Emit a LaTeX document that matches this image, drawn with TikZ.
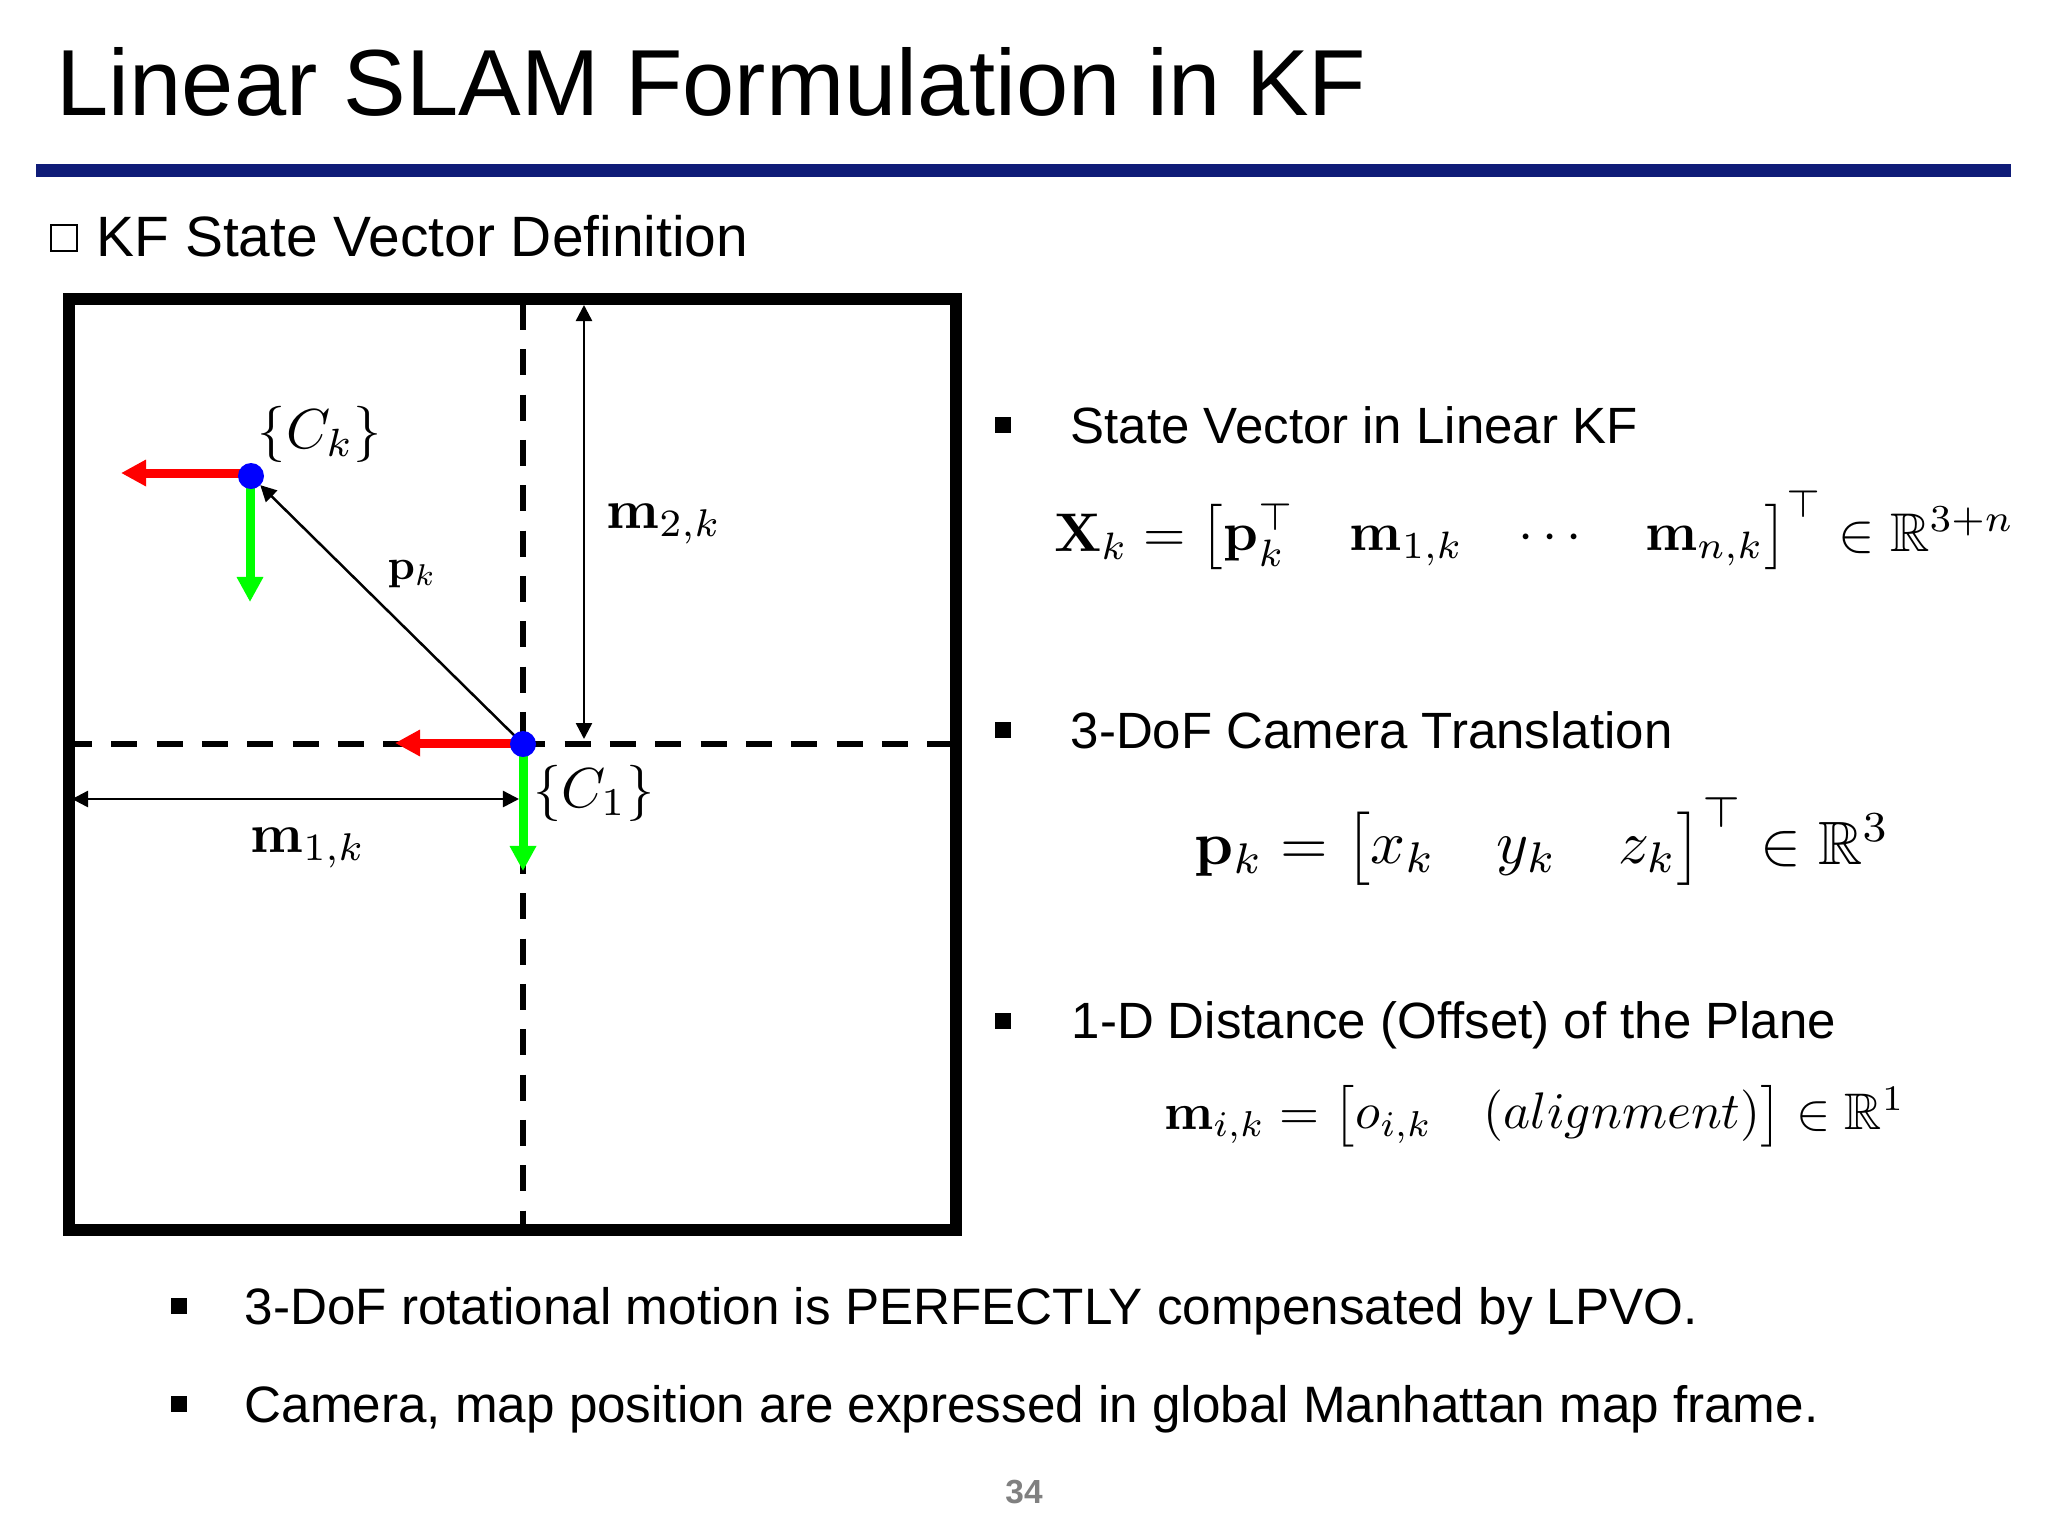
\documentclass[tikz,border=0pt]{standalone}
\usepackage{amsmath,amssymb}
\usepackage[no-math]{fontspec}
\setmainfont{Liberation Sans}
\usetikzlibrary{arrows.meta}
\definecolor{barblue}{HTML}{0F1C78}
\tikzset{
	txt/.style={anchor=base west,inner sep=0pt,font=\fontsize{14.5}{17}\selectfont},
	txtwide/.style={txt,font=\fontsize{14.56}{17}\selectfont},
	eqn/.style={anchor=base west,inner sep=0pt},
	lab/.style={inner sep=0pt,scale=1.57},
	sq/.style={fill=black,inner sep=0pt,minimum size=0.16cm},
	axisline/.style={line width=0.065cm,dash pattern=on 0.26cm off 0.193cm},
	poseX/.style={red,line width=0.09cm,-{Triangle[length=0.25cm,width=0.25cm]}},
	poseY/.style={green,line width=0.09cm,-{Triangle[length=0.25cm,width=0.25cm]}},
	dim/.style={line width=0.025cm,{Triangle[length=0.16cm,width=0.16cm]}-{Triangle[length=0.16cm,width=0.16cm]}},
}
\begin{document}
\begin{tikzpicture}[x=0.01cm,y=-0.01cm]
	\useasboundingbox (0,0) rectangle (2048,1536);
	\fill[white] (0,0) rectangle (2048,1536);
	% header
	\node[txt,font=\fontsize{26.7}{32}\selectfont] (title) at (56,115) {Linear SLAM Formulation in KF};
	\fill[barblue] (36,164) rectangle (2011,177);
	\node[draw,line width=0.02cm,inner sep=0pt,minimum size=0.26cm] (box) at (64,238) {};
	\node[txt,font=\fontsize{16.18}{19}\selectfont] (head) at (96,256) {KF State Vector Definition};
	% frame
	\coordinate (L) at (66,744);
	\coordinate (R) at (956,744);
	\coordinate (T) at (523,304);
	\coordinate (B) at (523,1230);
	\coordinate (C1) at (523,744);
	\coordinate (Ck) at (251,476);
	\coordinate (C1x) at (395,743);
	\coordinate (C1y) at (523,871);
	\coordinate (Ckx) at (121,473);
	\coordinate (Cky) at (250,602);
	\coordinate (M2a) at (584,305);
	\coordinate (M2b) at (584,739);
	\coordinate (M1a) at (72,799);
	\coordinate (M1b) at (519,799);
	\draw[axisline] (T) -- (B);
	\draw[axisline] (L) -- (R);
	\draw[line width=0.125cm] (69,299) rectangle (956,1230);
	\draw[dim] (M2a) -- (M2b);
	\draw[dim] (M1a) -- (M1b);
	\draw[line width=0.025cm,-{Triangle[length=0.16cm,width=0.16cm]},shorten >=0.13cm] (C1) -- (Ck);
	\draw[poseX] (C1 |- C1x) -- (C1x);
	\draw[poseY] (C1) -- (C1y);
	\draw[poseX] (Ck |- Ckx) -- (Ckx);
	\draw[poseY] (Cky |- Ck) -- (Cky);
	\fill[blue] (C1) circle (13);
	\fill[blue] (Ck) circle (13);
	\node[inner sep=0pt,scale=1.6] (lCk) at (320,434) {$\{C_k\}$};
	\node[inner sep=0pt,scale=1.6] (lC1) at (594,793) {$\{C_1\}$};
	\node[inner sep=0pt,scale=1.22] (lp) at (412,574) {$\mathbf{p}_k$};
	\node[lab] (lm2) at (664,524) {$\mathbf{m}_{2,k}$};
	\node[lab] (lm1) at (308,848) {$\mathbf{m}_{1,k}$};
	% right column
	\node[sq] (b1) at (1003,425) {};
	\node[txt] (t1) at (1070,443) {State Vector in Linear KF};
	\node[eqn,scale=1.55] (e1) at (1053,551) {$\mathbf{X}_k = \begin{bmatrix} \mathbf{p}_k^\top & \mathbf{m}_{1,k} & \cdots & \mathbf{m}_{n,k} \end{bmatrix}^\top \in \mathbb{R}^{3+n}$};
	\node[sq] (b2) at (1003,730) {};
	\node[txt] (t2) at (1070,748) {3-DoF Camera Translation};
	\node[eqn,scale=1.74] (e2) at (1193,864) {$\mathbf{p}_k = \begin{bmatrix} x_k & y_k & z_k \end{bmatrix}^\top \in \mathbb{R}^3$};
	\node[sq] (b3) at (1003,1021) {};
	\node[txt] (t3) at (1071,1038) {1-D Distance (Offset) of the Plane};
	\node[eqn,scale=1.462] (e3) at (1163,1129) {$\mathbf{m}_{i,k} = \begin{bmatrix} o_{i,k} & (alignment) \end{bmatrix} \in \mathbb{R}^1$};
	% bottom
	\node[sq] (b4) at (179,1306) {};
	\node[txtwide] (t4) at (244,1324) {3-DoF rotational motion is PERFECTLY compensated by LPVO.};
	\node[sq] (b5) at (179,1404) {};
	\node[txtwide] (t5) at (244,1422) {Camera, map position are expressed in global Manhattan map frame.};
	\node[inner sep=0pt,text=gray,font=\fontsize{9.5}{11}\selectfont\bfseries] (num) at (1024,1492) {34};
\end{tikzpicture}
\end{document}
